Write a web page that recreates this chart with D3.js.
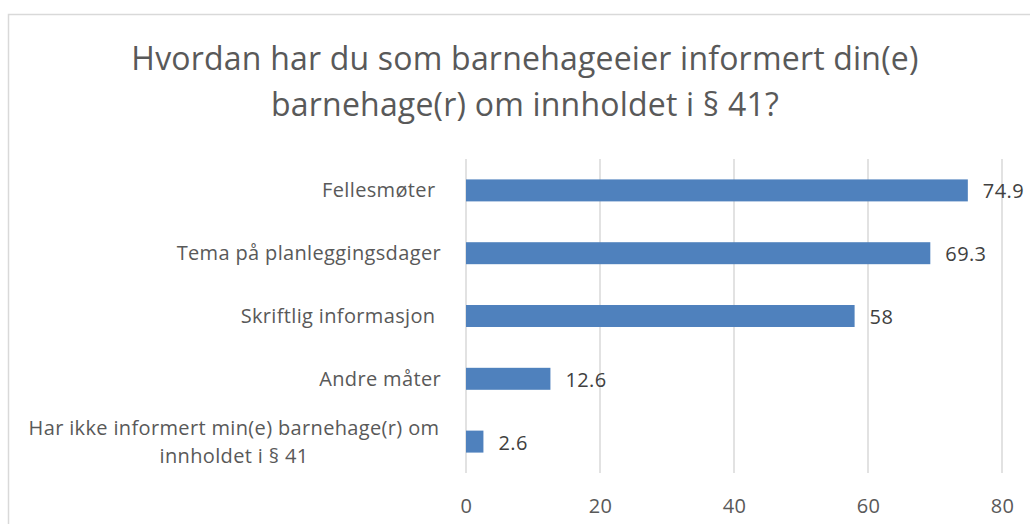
<!DOCTYPE html>
<html>
<head>
<meta charset="utf-8">
<script src="https://cdn.jsdelivr.net/npm/d3@7"></script>
<style>
  html, body { margin: 0; padding: 0; background: #fff; }
  svg { display: block; }
  text { font-family: "Open Sans", "Noto Sans", sans-serif; }
</style>
</head>
<body>
<svg id="chart" width="1030" height="524"></svg>
<script>
// Survey responses, percent of kindergarten owners
const categories = [
  ["Fellesmøter "],
  ["Tema på planleggingsdager"],
  ["Skriftlig informasjon "],
  ["Andre måter"],
  ["Har ikke informert min(e) barnehage(r) om", "innholdet i § 41"]
];
const values = [74.9, 69.3, 58, 12.6, 2.6];
const tickValues = [0, 20, 40, 60, 80];
const titleLines = [
  "Hvordan har du som barnehageeier informert din(e)",
  "barnehage(r) om innholdet i § 41?"
];

const W = 1030, H = 524;
const svg = d3.select("#chart");

// chart frame
svg.append("rect")
  .attr("x", 8.5).attr("y", 14.5)
  .attr("width", W).attr("height", H)
  .attr("fill", "#fff")
  .attr("stroke", "#d9d9d9")
  .attr("stroke-width", 1.5);

// title
svg.append("g")
  .selectAll("text")
  .data(titleLines)
  .join("text")
  .attr("x", 525)
  .attr("y", (d, i) => 70 + i * 46)
  .attr("text-anchor", "middle")
  .attr("fill", "#595959")
  .attr("font-size", 32)
  .attr("letter-spacing", 0.2)
  .text(d => d);

const plot = { left: 466, right: 1002, top: 159, bottom: 473 };

const x = d3.scaleLinear().domain([0, 80]).range([plot.left, plot.right]);
const y = d3.scaleBand()
  .domain(d3.range(categories.length))
  .range([plot.top, plot.bottom])
  .paddingInner(0.65)
  .paddingOuter(0.325);

// vertical gridlines
svg.append("g")
  .selectAll("line")
  .data(tickValues)
  .join("line")
  .attr("x1", d => x(d)).attr("x2", d => x(d))
  .attr("y1", plot.top).attr("y2", plot.bottom)
  .attr("stroke", "#d9d9d9")
  .attr("stroke-width", 1.5);

// x axis tick labels
const xAxis = d3.axisBottom(x).tickValues(tickValues).tickSize(0).tickPadding(0);
const gx = svg.append("g")
  .attr("transform", `translate(0,${plot.bottom})`)
  .call(xAxis);
gx.select(".domain").remove();
gx.selectAll("text")
  .attr("dy", null)
  .attr("y", 40)
  .attr("fill", "#595959")
  .attr("font-size", 20)
  .attr("letter-spacing", 0.4)
  .attr("font-family", "Open Sans, Noto Sans, sans-serif");

// bars
svg.append("g")
  .selectAll("rect")
  .data(values)
  .join("rect")
  .attr("x", x(0))
  .attr("y", (d, i) => y(i))
  .attr("width", d => x(d) - x(0))
  .attr("height", y.bandwidth())
  .attr("fill", "#4f81bd");

// value labels
svg.append("g")
  .selectAll("text")
  .data(values)
  .join("text")
  .attr("x", d => x(d) + 15)
  .attr("y", (d, i) => y(i) + y.bandwidth() / 2 + 8)
  .attr("fill", "#404040")
  .attr("font-size", 20)
  .attr("letter-spacing", 0.4)
  .text(d => d);

// category labels
const cat = svg.append("g")
  .selectAll("text")
  .data(categories)
  .join("text")
  .attr("fill", "#595959")
  .attr("font-size", 20)
  .attr("letter-spacing", 0.35)
  .style("white-space", "pre")
  .attr("text-anchor", d => d.length > 1 ? "middle" : "end")
  .attr("x", d => d.length > 1 ? 234 : 441)
  .attr("y", (d, i) => y(i) + y.bandwidth() / 2 + 7 - (d.length - 1) * 14);

cat.selectAll("tspan")
  .data(d => d)
  .join("tspan")
  .attr("x", function () { return d3.select(this.parentNode).attr("x"); })
  .attr("dy", (d, i) => i === 0 ? 0 : 28)
  .text(d => d);
</script>
</body>
</html>
